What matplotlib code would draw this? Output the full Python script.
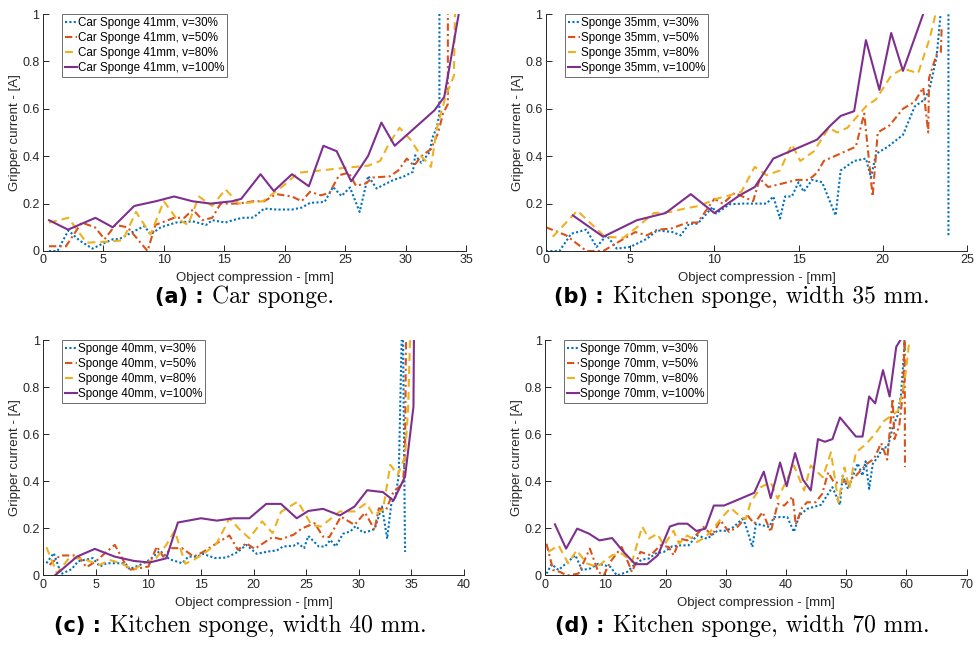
import matplotlib.pyplot as plt

plt.rcParams['font.family'] = ['Liberation Sans', 'DejaVu Sans']

# (a) car sponge 41mm
a30_x = [0.5, 1.2, 2.1, 3.0, 4.1, 4.9, 5.8, 6.3, 7.4, 8.4, 8.9, 9.75, 11.0, 12.4, 13.5, 14.0, 15.1, 15.7, 16.5, 17.4,
         18.3, 19.3, 20.6, 21.4, 22.1, 23.3, 24.0, 24.7, 25.4, 26.2, 26.9, 27.6, 29.0, 29.8, 30.6, 30.8, 31.3, 32.0,
         32.2, 32.6, 32.8, 32.8]
a30_y = [0.0, 0.0, 0.087, 0.045, 0.01, 0.03, 0.05, 0.05, 0.08, 0.105, 0.07, 0.10, 0.12, 0.125, 0.11, 0.13, 0.12, 0.13,
         0.14, 0.141, 0.179, 0.175, 0.175, 0.183, 0.203, 0.207, 0.27, 0.232, 0.268, 0.165, 0.317, 0.264, 0.30, 0.313,
         0.334, 0.404, 0.372, 0.418, 0.475, 0.524, 0.58, 1.05]
a50_x = [0.5, 1.9, 3.2, 4.3, 5.1, 6.0, 7.0, 8.65, 9.3, 10.85, 11.7, 12.4, 13.2, 14.0, 14.7, 16.2, 17.4, 18.3, 19.3,
         20.6, 21.4, 22.1, 23.0, 23.7, 24.5, 25.3, 25.9, 26.7, 27.3, 28.7, 29.4, 30.1, 30.7, 31.3, 32.1, 32.7, 33.1,
         33.5, 33.5]
a50_y = [0.02, 0.02, 0.12, 0.10, 0.05, 0.11, 0.10, 0.0, 0.11, 0.14, 0.14, 0.175, 0.13, 0.14, 0.20, 0.20, 0.21, 0.21,
         0.24, 0.23, 0.21, 0.25, 0.235, 0.245, 0.32, 0.33, 0.275, 0.285, 0.31, 0.315, 0.34, 0.39, 0.36, 0.40, 0.43,
         0.50, 0.58, 0.62, 1.05]
a80_x = [0.5, 2.1, 3.6, 5.5, 6.6, 7.7, 8.9, 10.0, 11.0, 12.0, 12.9, 14.0, 15.1, 16.2, 18.2, 20.0, 21.1, 24.8, 26.9,
         27.9, 28.6, 29.5, 30.4, 31.3, 32.1, 32.6, 33.3, 34.0, 34.1]
a80_y = [0.12, 0.14, 0.035, 0.04, 0.045, 0.165, 0.07, 0.21, 0.14, 0.11, 0.23, 0.19, 0.26, 0.20, 0.21, 0.28, 0.33,
         0.35, 0.36, 0.38, 0.45, 0.52, 0.47, 0.40, 0.355, 0.52, 0.65, 0.74, 1.05]
a100_x = [0.5, 2.07, 4.34, 5.77, 7.55, 9.34, 10.85, 12.36, 13.87, 15.66, 16.4, 18.0, 19.1, 20.6, 22.0, 23.2, 24.3,
          25.5, 26.9, 28.0, 29.1, 32.4, 33.2, 34.5]
a100_y = [0.13, 0.09, 0.14, 0.10, 0.19, 0.21, 0.23, 0.21, 0.20, 0.21, 0.22, 0.324, 0.253, 0.324, 0.273, 0.444, 0.421,
          0.294, 0.401, 0.542, 0.444, 0.594, 0.65, 1.03]

# (b) kitchen sponge 35mm
b30_x = [0, 0.8, 1.5, 2.4, 3.0, 3.6, 4.2, 5.0, 6.0, 6.6, 7.5, 8.0, 8.5, 9.0, 9.9, 10.1, 10.9, 11.7, 13.1, 13.5, 13.9,
         14.2, 14.6, 15.0, 15.3, 15.8, 16.4, 17.2, 17.5, 18.3, 19.0, 19.3, 19.6, 20.3, 21.2, 21.9, 22.5, 22.8, 23.2,
         23.5, 23.9, 23.9]
b30_y = [0, 0, 0.073, 0.09, 0.017, 0.066, 0.01, 0.017, 0.052, 0.087, 0.08, 0.066, 0.115, 0.115, 0.186, 0.158, 0.197,
         0.2, 0.2, 0.23, 0.137, 0.23, 0.23, 0.29, 0.25, 0.30, 0.29, 0.15, 0.34, 0.38, 0.39, 0.31, 0.41, 0.44, 0.49,
         0.61, 0.64, 0.69, 0.82, 1.05, 1.05, 0.066]
b50_x = [0, 1.2, 2.4, 3.4, 5.3, 6.0, 6.6, 7.4, 8.4, 9.0, 10.0, 10.5, 11.2, 12.3, 12.7, 13.2, 14.9, 15.6, 16.1, 16.5,
         18.4, 18.9, 19.4, 19.7, 20.4, 21.2, 21.9, 22.4, 22.7, 22.75, 23.2, 23.45, 23.5]
b50_y = [0.10, 0.066, 0.0, 0.0, 0.08, 0.066, 0.09, 0.094, 0.12, 0.12, 0.22, 0.20, 0.245, 0.21, 0.305, 0.27, 0.30,
         0.30, 0.33, 0.38, 0.44, 0.58, 0.23, 0.50, 0.53, 0.60, 0.63, 0.69, 0.50, 0.73, 0.83, 0.84, 0.95]
b80_x = [0.4, 1.86, 3.5, 4.6, 5.4, 6.4, 7.4, 8.3, 9.1, 10.1, 10.9, 11.6, 12.4, 13.1, 13.9, 14.6, 15.1, 15.9, 16.8,
         17.3, 17.9, 19.0, 19.6, 20.5, 21.2, 22.1, 22.8, 23.1, 23.2]
b80_y = [0.06, 0.17, 0.06, 0.056, 0.10, 0.16, 0.165, 0.18, 0.19, 0.22, 0.235, 0.25, 0.355, 0.32, 0.34, 0.45, 0.38,
         0.42, 0.52, 0.50, 0.52, 0.61, 0.64, 0.74, 0.77, 0.75, 0.90, 0.99, 1.05]
b100_x = [1.6, 3.4, 5.4, 7.1, 8.6, 10.0, 11.5, 12.4, 13.5, 16.1, 16.9, 17.5, 18.3, 19.0, 19.8, 20.5, 21.2, 22.4]
b100_y = [0.15, 0.06, 0.13, 0.16, 0.24, 0.16, 0.235, 0.27, 0.39, 0.47, 0.53, 0.57, 0.59, 0.89, 0.68, 0.92, 0.76, 1.0]

# (c) kitchen sponge 40mm
c30_x = [0.3, 1.0, 1.7, 2.7, 3.3, 4.7, 5.4, 6.0, 7.8, 8.2, 9.2, 10.1, 11.1, 12.0, 13.2, 13.8, 14.6, 15.2, 16.3, 17.4,
         18.5, 19.3, 20.3, 21.4, 22.2, 22.8, 23.8, 24.2, 24.8, 25.2, 26.2, 26.8, 27.3, 27.8, 28.5, 29.2, 29.7, 30.4,
         30.9, 31.5, 32.2, 32.7, 33.1, 33.5, 33.8, 34.1, 34.2, 34.4]
c30_y = [0.052, 0.095, 0.006, 0.027, 0.06, 0.074, 0.038, 0.052, 0.052, 0.027, 0.045, 0.066, 0.105, 0.069, 0.052,
         0.08, 0.08, 0.092, 0.074, 0.076, 0.10, 0.13, 0.092, 0.102, 0.106, 0.123, 0.126, 0.137, 0.116, 0.168, 0.123,
         0.123, 0.151, 0.123, 0.177, 0.187, 0.21, 0.182, 0.187, 0.197, 0.293, 0.156, 0.307, 0.335, 0.427, 1.05, 1.05,
         0.10]
c50_x = [0.6, 1.6, 3.3, 4.1, 5.0, 6.0, 6.8, 8.1, 9.2, 10.0, 10.8, 11.4, 12.2, 13.2, 14.3, 15.2, 16.5, 17.7, 18.5,
         19.3, 20.1, 21.8, 22.6, 23.8, 24.6, 25.8, 26.6, 27.2, 28.3, 29.6, 30.6, 31.5, 31.9, 32.6, 33.3, 34.2, 34.4,
         34.5]
c50_y = [0.045, 0.085, 0.085, 0.035, 0.06, 0.10, 0.13, 0.024, 0.031, 0.038, 0.123, 0.08, 0.116, 0.116, 0.08, 0.10,
         0.137, 0.17, 0.109, 0.137, 0.113, 0.163, 0.154, 0.173, 0.20, 0.222, 0.165, 0.163, 0.25, 0.215, 0.267, 0.194,
         0.285, 0.279, 0.356, 0.39, 0.526, 1.05]
c80_x = [0.3, 1.3, 2.5, 3.8, 5.4, 6.3, 7.4, 8.6, 9.5, 10.6, 11.7, 12.5, 13.5, 14.3, 15.5, 16.5, 17.7, 18.7, 19.6,
         20.8, 21.8, 22.6, 24.2, 25.5, 26.4, 28.2, 29.6, 30.7, 31.4, 32.3, 33.0, 33.7, 34.4, 34.7, 34.9]
c80_y = [0.12, 0.01, 0.076, 0.07, 0.045, 0.066, 0.052, 0.024, 0.052, 0.066, 0.13, 0.19, 0.05, 0.066, 0.10, 0.137,
         0.243, 0.194, 0.158, 0.23, 0.18, 0.27, 0.314, 0.215, 0.208, 0.272, 0.272, 0.307, 0.257, 0.279, 0.47, 0.427,
         0.505, 0.717, 1.05]
c100_x = [1.1, 3.2, 4.9, 6.8, 8.6, 10.1, 11.7, 12.8, 15.0, 16.5, 18.1, 19.6, 21.2, 22.6, 24.1, 25.2, 26.6, 28.2, 29.6,
          30.8, 32.3, 33.3, 34.4, 35.2, 35.25]
c100_y = [0.0, 0.08, 0.113, 0.08, 0.062, 0.055, 0.073, 0.225, 0.243, 0.233, 0.243, 0.243, 0.304, 0.304, 0.243, 0.274,
          0.283, 0.255, 0.293, 0.362, 0.354, 0.318, 0.42, 0.717, 1.05]

# (d) kitchen sponge 70mm
d30_x = [0.2, 1.05, 2.2, 3.3, 5.0, 6.1, 7.5, 8.8, 10.8, 11.9, 13.6, 14.95, 16.1, 17.2, 18.3, 19.7, 21.1, 22.5, 23.8,
         25.2, 26.9, 28.6, 30.0, 31.3, 32.7, 33.2, 34.4, 35.0, 37.2, 38.0, 40.2, 41.3, 42.2, 43.5, 45.8, 47.7, 48.95,
         49.4, 50.3, 51.9, 52.7, 53.2, 53.8, 54.4, 55.2, 56.1, 56.9, 57.7, 58.5, 59.1, 59.7, 59.8]
d30_y = [0.008, 0.048, 0.023, 0.048, 0.086, 0.023, 0.03, 0.05, 0.037, 0.0, 0.015, 0.05, 0.068, 0.072, 0.093, 0.10,
         0.124, 0.128, 0.128, 0.17, 0.156, 0.19, 0.19, 0.206, 0.24, 0.22, 0.121, 0.22, 0.206, 0.248, 0.248, 0.185,
         0.255, 0.283, 0.30, 0.375, 0.30, 0.424, 0.368, 0.476, 0.424, 0.485, 0.368, 0.474, 0.502, 0.544, 0.544, 0.629,
         0.678, 0.77, 0.988, 1.05]
d50_x = [0.2, 1.3, 2.45, 3.6, 5.5, 7.4, 8.8, 9.7, 10.8, 12.7, 14.4, 15.8, 17.5, 19.1, 20.5, 21.3, 22.4, 23.6, 25.0,
         26.3, 27.7, 29.1, 30.5, 31.9, 33.6, 34.7, 36.1, 37.45, 38.6, 39.7, 41.1, 41.6, 42.7, 43.5, 44.9, 46.0, 47.0,
         48.0, 50.2, 51.6, 53.5, 54.6, 55.8, 56.8, 57.7, 58.0, 58.8, 59.5, 59.7, 59.75]
d50_y = [0.135, 0.023, 0.015, 0.0, 0.008, 0.114, 0.015, 0.0, 0.058, 0.121, 0.015, 0.10, 0.086, 0.128, 0.121, 0.086,
         0.156, 0.149, 0.17, 0.206, 0.17, 0.234, 0.185, 0.206, 0.255, 0.22, 0.269, 0.185, 0.304, 0.297, 0.335, 0.216,
         0.29, 0.311, 0.311, 0.347, 0.438, 0.393, 0.40, 0.424, 0.476, 0.495, 0.562, 0.492, 0.751, 0.579, 0.636, 0.798,
         1.05, 0.46]
d80_x = [0.5, 2.2, 3.8, 5.2, 6.9, 8.6, 11.1, 12.7, 14.4, 16.1, 17.2, 18.6, 19.7, 21.3, 22.2, 23.6, 25.2, 26.6, 28.0,
         29.4, 30.8, 32.4, 33.3, 34.1, 35.8, 37.45, 38.6, 41.3, 43.0, 44.1, 46.1, 47.45, 48.7, 49.7, 50.5, 51.6, 53.3,
         54.95, 56.3, 58.6, 59.7, 60.5]
d80_y = [0.10, 0.128, 0.051, 0.107, 0.051, 0.037, 0.086, 0.093, 0.058, 0.208, 0.156, 0.177, 0.128, 0.19, 0.135, 0.17,
         0.142, 0.163, 0.203, 0.248, 0.287, 0.25, 0.24, 0.31, 0.375, 0.396, 0.326, 0.467, 0.361, 0.467, 0.417, 0.523,
         0.311, 0.459, 0.368, 0.523, 0.558, 0.607, 0.657, 0.699, 0.826, 1.0]
d100_x = [1.6, 3.45, 5.3, 7.3, 9.0, 11.1, 13.0, 14.95, 16.9, 18.7, 20.7, 22.1, 23.6, 25.1, 26.6, 28.0, 29.7, 32.4,
          34.7, 36.3, 37.45, 39.0, 40.1, 41.5, 42.8, 44.1, 45.3, 46.45, 47.7, 48.95, 51.6, 52.7, 53.8, 54.8, 56.1,
          57.2, 58.3, 59.0]
d100_y = [0.217, 0.114, 0.199, 0.177, 0.149, 0.159, 0.10, 0.048, 0.048, 0.086, 0.208, 0.22, 0.22, 0.189, 0.199, 0.297,
          0.297, 0.326, 0.351, 0.441, 0.328, 0.48, 0.379, 0.52, 0.407, 0.361, 0.579, 0.568, 0.579, 0.671, 0.59, 0.59,
          0.76, 0.731, 0.872, 0.76, 0.971, 1.0]

speeds = ['30', '50', '80', '100']
y_ticks = [0, 0.2, 0.4, 0.6, 0.8, 1]
y_tick_labels = ['0', '0.2', '0.4', '0.6', '0.8', '1']

# matlab default colours / line styles
colors = ['#0072BD', '#D95319', '#EDB120', '#7E2F8E']
styles = [(0, (1, 1.1)), (0, (3.5, 1.6, 1, 1.6)), (0, (3.8, 2.4)), '-']
txt_col = '#262626'


def draw_panel(ax, xs, ys, name, xmax, xstep):
    for i in range(4):
        ax.plot(xs[i], ys[i], linestyle=styles[i], color=colors[i], lw=1.5,
                label=name + ', v=' + speeds[i] + '%')
    ax.set_xlim(0, xmax)
    ax.set_ylim(0, 1)
    ax.set_xticks(range(0, xmax + 1, xstep))
    ax.set_yticks(y_ticks, y_tick_labels)
    for s in ['top', 'right']:
        ax.spines[s].set_visible(False)
    for s in ['left', 'bottom']:
        ax.spines[s].set_color(txt_col)
        ax.spines[s].set_linewidth(0.7)
    ax.tick_params(direction='in', length=4, width=0.7, colors=txt_col, labelsize=9, pad=2.5)
    ax.set_xlabel('Object compression - [mm]', fontsize=9.5, color=txt_col)
    ax.set_ylabel('Gripper current - [A]', fontsize=9.5, color=txt_col)
    ax.xaxis.set_label_coords(0.5, -0.09)
    ax.yaxis.set_label_coords(-0.052, 0.5)
    leg = ax.legend(loc='upper left', bbox_to_anchor=(0.045, 1.0), fontsize=8.4, fancybox=False,
                    framealpha=1, edgecolor='#555555', handlelength=1.05, handletextpad=0.05,
                    borderpad=0.25, labelspacing=0.27, borderaxespad=0)
    leg.get_frame().set_linewidth(0.6)


fig = plt.figure(figsize=(9.79, 6.55), dpi=100)

ax_a = fig.add_axes([0.0439, 0.6168, 0.4321, 0.3618])
ax_b = fig.add_axes([0.5577, 0.6168, 0.4300, 0.3618])
ax_c = fig.add_axes([0.0442, 0.1214, 0.4297, 0.3595])
ax_d = fig.add_axes([0.5570, 0.1214, 0.4304, 0.3595])

draw_panel(ax_a, [a30_x, a50_x, a80_x, a100_x], [a30_y, a50_y, a80_y, a100_y], 'Car Sponge 41mm', 35, 5)
draw_panel(ax_b, [b30_x, b50_x, b80_x, b100_x], [b30_y, b50_y, b80_y, b100_y], 'Sponge 35mm', 25, 5)
draw_panel(ax_c, [c30_x, c50_x, c80_x, c100_x], [c30_y, c50_y, c80_y, c100_y], 'Sponge 40mm', 40, 5)
draw_panel(ax_d, [d30_x, d50_x, d80_x, d100_x], [d30_y, d50_y, d80_y, d100_y], 'Sponge 70mm', 70, 10)

# sub captions: bold sans label + serif text
captions = [('(a) :', 'Car sponge.', 0.2075, 0.5466),
            ('(b) :', 'Kitchen sponge, width 35 mm.', 0.617, 0.5466),
            ('(c) :', 'Kitchen sponge, width 40 mm.', 0.1035, 0.0443),
            ('(d) :', 'Kitchen sponge, width 70 mm.', 0.617, 0.0443)]
for lab, txt, xs, yc in captions:
    fig.text(xs, yc, lab, ha='right', va='center', fontsize=15, fontweight='bold', family='DejaVu Sans')
    fig.text(xs + 0.009, yc, txt, ha='left', va='center', fontsize=17, family='cmr10')

fig.savefig('out.png', dpi=100)
